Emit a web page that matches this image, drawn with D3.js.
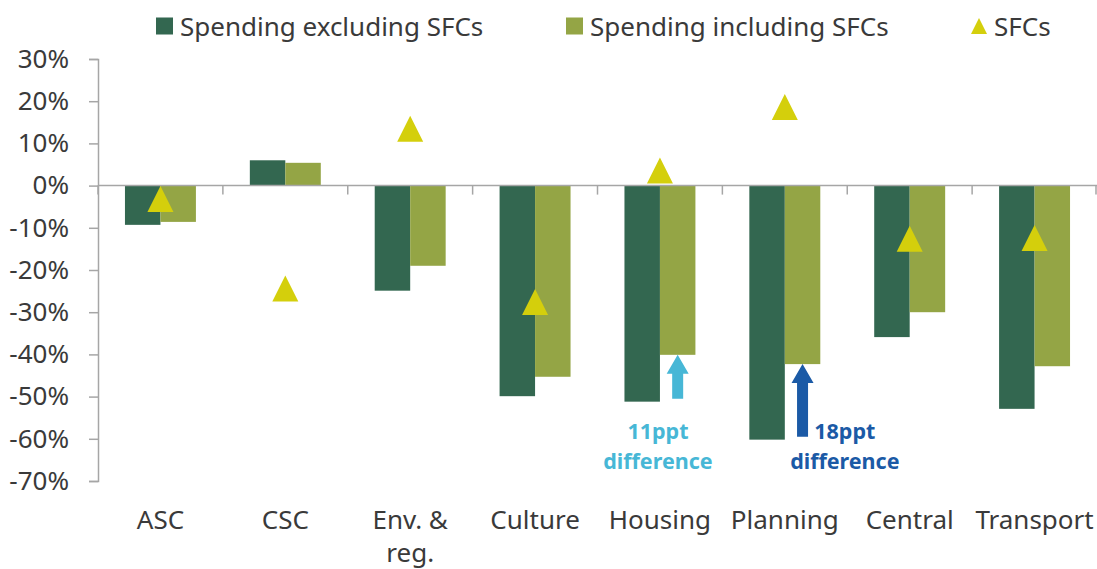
<!doctype html>
<html>
<head>
<meta charset="utf-8" />
<script src="https://cdn.jsdelivr.net/npm/d3@7"></script>
<style>
 body { margin: 0; background: #fff; }
 text { font-family: "Noto Sans", "Open Sans", sans-serif; fill: #3a3a3a; }
</style>
</head>
<body>
<script>
 var categories = ["ASC", "CSC", "Env. & reg.", "Culture", "Housing", "Planning", "Central", "Transport"];
 var spendExcl = [-9.3, 6.0, -24.9, -49.9, -51.2, -60.2, -35.9, -52.9];
 var spendIncl = [-8.6, 5.4, -19.0, -45.3, -40.1, -42.3, -30.0, -42.8];
 var sfcs = [-3.2, -24.4, 13.5, -27.6, 3.6, 18.6, -12.6, -12.4];
 var yTicks = [30, 20, 10, 0, -10, -20, -30, -40, -50, -60, -70];
 var seriesNames = ["Spending excluding SFCs", "Spending including SFCs", "SFCs"];
 var notes = [
     {cat: "Housing", text: ["11ppt", "difference"], color: "#47B7D6"},
     {cat: "Planning", text: ["18ppt", "difference"], color: "#1B5AA6"}
 ];

 var w = 1097, h = 569;
 var colExcl = "#336750", colIncl = "#94A545", colTri = "#D4CF0C", axisCol = "#A6A6A6";

 var svg = d3.select("body").append("svg")
     .attr("width", w).attr("height", h);

 var x = d3.scaleBand().domain(categories).range([98, 1097]).padding(0);
 var xs = d3.scaleBand().domain(["excl", "incl"])
     .range([0, x.bandwidth()]).paddingOuter(0.76).paddingInner(0);
 var y = d3.scaleLinear().domain([-70, 30]).range([481, 59]);

 // y axis
 var yAxis = svg.append("g")
     .attr("transform", "translate(98,0)")
     .call(d3.axisLeft(y).tickValues(yTicks).tickSize(9).tickPadding(20)
           .tickFormat(function(d){ return d + "%"; }));
 yAxis.select(".domain").attr("stroke", axisCol).attr("stroke-width", 1.5);
 yAxis.selectAll(".tick line").attr("stroke", axisCol).attr("stroke-width", 1.5);
 yAxis.selectAll(".tick text").attr("font-size", "26px").attr("fill", "#3a3a3a")
     .style("font-family", "'Noto Sans', sans-serif");

 // bars
 var rows = categories.map(function(c, i){
     return {cat: c, excl: spendExcl[i], incl: spendIncl[i], sfc: sfcs[i]};
 });

 var groups = svg.selectAll(".grp").data(rows).enter().append("g")
     .attr("class", "grp")
     .attr("transform", function(d){ return "translate(" + x(d.cat) + ",0)"; });

 groups.selectAll("rect")
     .data(function(d){ return [{k: "excl", v: d.excl}, {k: "incl", v: d.incl}]; })
     .enter().append("rect")
     .attr("x", function(d){ return xs(d.k); })
     .attr("width", xs.bandwidth())
     .attr("y", function(d){ return y(Math.max(0, d.v)); })
     .attr("height", function(d){ return Math.abs(y(d.v) - y(0)); })
     .attr("fill", function(d){ return d.k == "excl" ? colExcl : colIncl; });

 // x axis line with ticks at category boundaries
 svg.append("line")
     .attr("x1", 98).attr("x2", 1097)
     .attr("y1", y(0)).attr("y2", y(0))
     .attr("stroke", axisCol).attr("stroke-width", 1.5);
 var bounds = categories.map(function(c){ return x(c); }).concat([x.range()[1] - 1]);
 svg.selectAll(".xtick").data(bounds).enter().append("line")
     .attr("x1", function(d){ return d; }).attr("x2", function(d){ return d; })
     .attr("y1", y(0)).attr("y2", y(0) + 9)
     .attr("stroke", axisCol).attr("stroke-width", 1.5);

 // SFC triangles
 var triType = {draw: function(ctx, size){
     var r = Math.sqrt(size) / 2;
     ctx.moveTo(0, -r); ctx.lineTo(r, r); ctx.lineTo(-r, r); ctx.closePath();
 }};
 var tri = d3.symbol().type(triType).size(26 * 26);
 svg.selectAll(".tri").data(rows).enter().append("path")
     .attr("class", "tri")
     .attr("d", tri)
     .attr("transform", function(d){
         return "translate(" + (x(d.cat) + x.bandwidth() / 2) + "," + y(d.sfc) + ")";
     })
     .attr("fill", colTri);

 // category labels
 var lab = svg.selectAll(".cat").data(categories).enter().append("text")
     .attr("class", "cat")
     .attr("x", function(d){ return x(d) + x.bandwidth() / 2; })
     .attr("y", 529)
     .attr("text-anchor", "middle")
     .attr("font-size", "26px");
 lab.each(function(d){
     var t = d3.select(this);
     var parts = d == "Env. & reg." ? ["Env. &", "reg."] : [d];
     parts.forEach(function(p, i){
         t.append("tspan").attr("x", x(d) + x.bandwidth() / 2)
             .attr("dy", i == 0 ? 0 : 33).text(p);
     });
 });

 // difference arrows
 notes.forEach(function(n, i){
     var r = rows.find(function(d){ return d.cat == n.cat; });
     var cx = x(n.cat) + xs("incl") + xs.bandwidth() / 2;
     var yTop = y(r.incl), yBot = y(r.excl) - 3;
     svg.append("path")
         .attr("d", "M" + cx + "," + yTop +
               " L" + (cx + 11) + "," + (yTop + 19) +
               " L" + (cx + 5.5) + "," + (yTop + 19) +
               " L" + (cx + 5.5) + "," + yBot +
               " L" + (cx - 5.5) + "," + yBot +
               " L" + (cx - 5.5) + "," + (yTop + 19) +
               " L" + (cx - 11) + "," + (yTop + 19) + " Z")
         .attr("fill", n.color);
     var tx = i == 0 ? x(n.cat) + x.bandwidth() / 2 - 2 : x(n.cat) + x.bandwidth() / 2 + 60;
     var t = svg.append("text")
         .attr("x", tx).attr("y", 439)
         .attr("text-anchor", "middle")
         .attr("font-size", "21.5px").attr("font-weight", "bold")
         .style("fill", n.color);
     n.text.forEach(function(s, j){
         t.append("tspan").attr("x", tx).attr("dy", j == 0 ? 0 : 30).text(s);
     });
 });

 // legend
 var legX = [156, 566, 971];
 var leg = svg.selectAll(".leg").data(seriesNames).enter().append("g")
     .attr("class", "leg")
     .attr("transform", function(d, i){ return "translate(" + legX[i] + ",26)"; });
 leg.each(function(d, i){
     var g = d3.select(this);
     if (i < 2) {
         g.append("rect").attr("x", 0).attr("y", -8.5).attr("width", 17).attr("height", 17)
             .attr("fill", i == 0 ? colExcl : colIncl);
     } else {
         g.append("path").attr("d", "M8,-8 L16,8 L0,8 Z").attr("fill", colTri);
     }
     g.append("text").attr("x", i < 2 ? 24 : 23).attr("y", 9.5)
         .attr("font-size", "26px").text(d);
 });
</script>
</body>
</html>
